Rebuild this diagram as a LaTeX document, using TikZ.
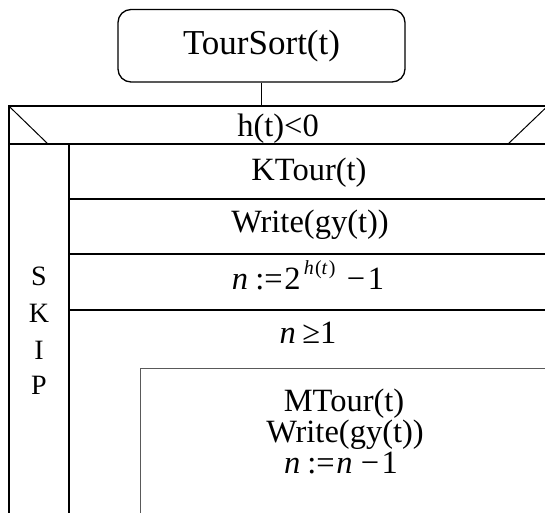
\documentclass[tikz,border=0pt]{standalone}
\usepackage{fontspec}
\setmainfont{Liberation Serif}
\newcommand{\vi}[1]{\textit{#1}}
\newcommand{\supscr}[1]{\raisebox{0.44em}{\fontsize{20}{22}\selectfont #1}}
\begin{document}
\begin{tikzpicture}[x=1pt,y=-1pt,
  frame/.style={line width=2pt},
  thinline/.style={line width=1pt},
  loopbox/.style={line width=1.3pt, draw=black!65},
  txt/.style={anchor=base, inner sep=0pt, font=\fontsize{32.5}{36}\selectfont},
  skipletter/.style={anchor=base, inner sep=0pt, font=\fontsize{28}{32}\selectfont},
  startbox/.style={draw, rounded corners=13pt, line width=1.3pt,
    minimum width=287pt, minimum height=72.5pt, inner sep=0pt,
    font=\fontsize{35}{40}\selectfont}]
\useasboundingbox (0,0) rectangle (545,512);
\clip (0,0) rectangle (545,512);

% start block
\node[startbox] (start) at (261.5,45.75) {TourSort(t)};

% selection frame
\coordinate (ftl) at (8.5,105.7);
\coordinate (ftr) at (548,105.7);
\coordinate (fhl) at (8.5,144);
\coordinate (fhr) at (548,144);
\coordinate (fbl) at (8.5,530);
\coordinate (fbr) at (548,530);
\draw[frame] (fbl) -- (ftl) -- (ftr) -- (fbr);
\draw[frame] (fhl) -- (fhr);
\draw[thinline] (ftl) -- (48,144);
\draw[thinline] (ftr) -- (508,144);
\draw[thinline] (start.south) -- (start.south |- ftl);
\node[txt] (cond) at (278,136) {h(t)<0};

% SKIP column and sequence
\coordinate (ctop) at (69,144);
\coordinate (cbot) at (69,530);
\draw[frame] (ctop) -- (cbot);
\foreach \yy/\nm in {199.3/ra, 254/rb, 310/rc}{
  \coordinate (\nm l) at (69,\yy);
  \coordinate (\nm r) at (548,\yy);
  \draw[frame] (\nm l) -- (\nm r);
}
\node[skipletter] (sk1) at (39,285) {S};
\node[skipletter] (sk2) at (39,322) {K};
\node[skipletter] (sk3) at (39,359) {I};
\node[skipletter] (sk4) at (39,394) {P};

\node[txt] (kt) at (309,180) {KTour(t)};
\node[txt] (wr) at (310,232) {Write(gy(t))};
\node[txt] (asg) at (308,289) {\vi{n}\hspace{0.22em}:=\hspace{0.05em}2\hspace{0.1em}\supscr{\vi{h}\hspace{0.06em}(\vi{t}\hspace{0.06em})}\hspace{0.35em}−\hspace{0.08em}1};
\node[txt] (loopc) at (308,343) {\vi{n}\hspace{0.2em}≥1};

% loop body
\coordinate (lbl) at (140.7,530);
\coordinate (ltl) at (140.7,368.5);
\coordinate (ltr) at (560,368.5);
\draw[loopbox] (lbl) -- (ltl) -- (ltr);
\node[txt] (mt) at (344,411) {MTour(t)};
\node[txt] (wr2) at (345,442) {Write(gy(t))};
\node[txt] (dec) at (341,473) {\vi{n}\hspace{0.22em}:=\hspace{0.05em}\vi{n}\hspace{0.25em}−\hspace{0.08em}1};
\end{tikzpicture}
\end{document}
